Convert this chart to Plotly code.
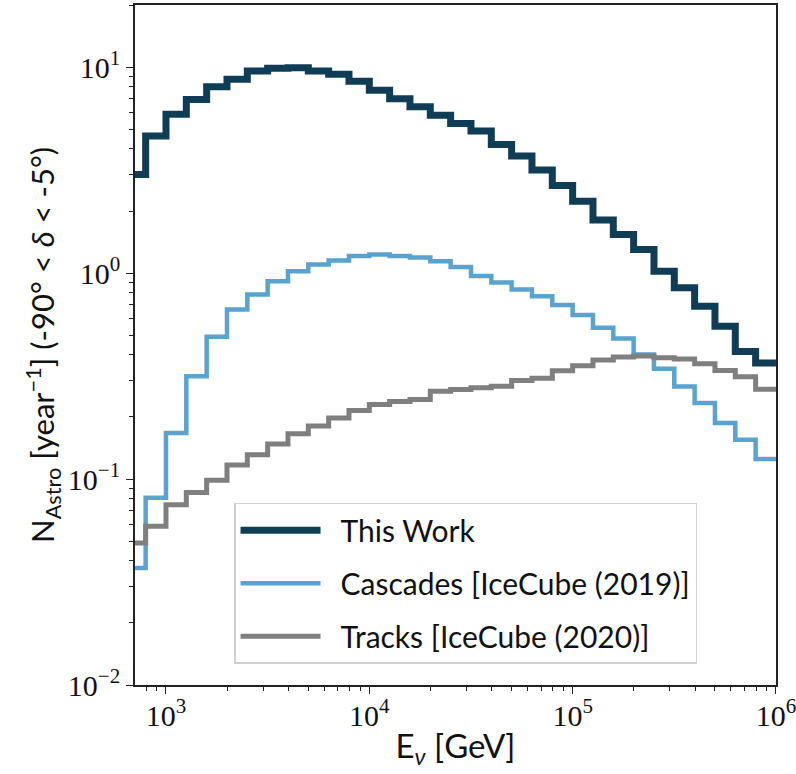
import numpy as np
import plotly.graph_objects as go

# Bin edges: log10(E/GeV) from 2.8 to 6.0 in steps of 0.1
log_edges = np.round(np.arange(2.8, 6.0001, 0.1), 2)
edges = 10 ** log_edges

this_work = [3.01, 4.62, 5.89, 6.96, 8.03, 8.72, 9.57, 9.86, 9.93, 9.57,
             9.22, 8.54, 7.72, 7.02, 6.42, 5.83, 5.32, 4.89, 4.21, 3.70,
             3.16, 2.66, 2.23, 1.81, 1.54, 1.30, 1.02, 0.847, 0.690, 0.552,
             0.416, 0.366]

cascades = [0.037, 0.081, 0.167, 0.315, 0.490, 0.665, 0.787, 0.913, 1.02, 1.10,
            1.15, 1.21, 1.23, 1.21, 1.19, 1.14, 1.07, 0.968, 0.900, 0.832,
            0.772, 0.700, 0.625, 0.543, 0.481, 0.402, 0.343, 0.281, 0.234, 0.187,
            0.155, 0.125]

tracks = [0.0489, 0.0589, 0.075, 0.0861, 0.0985, 0.117, 0.131, 0.148, 0.166, 0.181,
          0.198, 0.215, 0.230, 0.238, 0.243, 0.267, 0.272, 0.277, 0.282, 0.301,
          0.308, 0.335, 0.355, 0.378, 0.391, 0.395, 0.388, 0.382, 0.363, 0.336,
          0.314, 0.273]

x_tickvals = [1e3, 1e4, 1e5, 1e6]
x_ticktext = ["10<sup>3</sup>", "10<sup>4</sup>", "10<sup>5</sup>", "10<sup>6</sup>"]
y_tickvals = [1e-2, 1e-1, 1e0, 1e1]
y_ticktext = ["10<sup>−2</sup>", "10<sup>−1</sup>", "10<sup>0</sup>", "10<sup>1</sup>"]

series_names = ["This Work", "Cascades [IceCube (2019)]", "Tracks [IceCube (2020)]"]
series_vals = [this_work, cascades, tracks]
series_colors = ["#0e3d55", "#5aa3cf", "#7f7f7f"]
series_widths = [7, 4.5, 5]

fig = go.Figure()
for i, (name, vals, col, w) in enumerate(zip(series_names, series_vals, series_colors, series_widths)):
    fig.add_trace(go.Scatter(
        x=edges, y=list(vals) + [vals[-1]],
        mode="lines", line=dict(shape="hv", color=col, width=w),
        name="\u2002" + name, legendgroup=f"g{i}",
    ))

tick_font = dict(family="Liberation Serif, DejaVu Serif, serif", size=30, color="#111")

axis_common = dict(
    type="log", showgrid=False, zeroline=False, automargin=False,
    showline=True, mirror=True, linecolor="#222", linewidth=1.6,
    ticks="outside", ticklen=7, tickwidth=1.4, tickcolor="#222",
    tickfont=tick_font, ticklabeloverflow="allow",
    minor=dict(ticks="outside", ticklen=4, tickwidth=1, tickcolor="#222", dtick="D1", showgrid=False),
)

fig.update_xaxes(**axis_common, range=[np.log10(704), 6.0002],
                 tickmode="array", tickvals=x_tickvals, ticktext=x_ticktext,
                 ticklabelstandoff=-4,
                 title=dict(text="E<sub><i>ν</i></sub> [GeV]",
                            font=dict(family="Lato, Open Sans, sans-serif", size=33, color="#111"),
                            standoff=4))
fig.update_yaxes(**axis_common, range=[-2, np.log10(20)],
                 tickmode="array", tickvals=y_tickvals, ticktext=y_ticktext,
                 title=dict(text="N<sub>Astro</sub> [year<sup>−1</sup>] (-90° &lt; <i>δ</i> &lt; -5°)",
                            font=dict(family="Lato, Open Sans, sans-serif", size=31, color="#111"),
                            standoff=4))

fig.update_layout(
    width=796, height=774,
    margin=dict(l=135, r=20, t=5, b=89),
    paper_bgcolor="white", plot_bgcolor="white",
    showlegend=True,
    legend=dict(
        x=0.1545, y=0.268, xanchor="left", yanchor="top",
        bgcolor="white", bordercolor="#d0d0d0", borderwidth=1.5,
        font=dict(family="Lato, Open Sans, sans-serif", size=30, color="#111"),
        tracegroupgap=11, itemwidth=80,
    ),
)

fig.write_html("out.html", config={"displayModeBar": False},
               post_script="document.body.style.margin='0';")
